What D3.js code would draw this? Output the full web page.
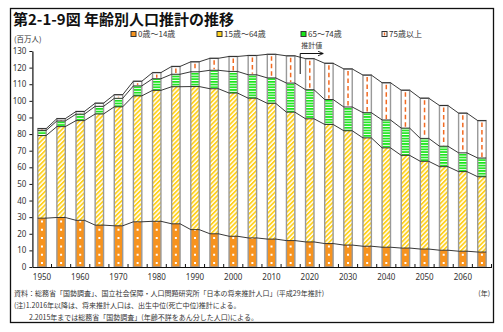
<!DOCTYPE html>
<html>
<head>
<meta charset="utf-8">
<script src="https://cdn.jsdelivr.net/npm/d3@7"></script>
<style>
  body { margin: 0; background: #fff; }
  svg { display: block; font-family: "Noto Sans CJK JP", "Noto Sans", sans-serif; }
</style>
</head>
<body>
<svg id="chart" width="503" height="332"></svg>
<script>
// 年齢3区分別人口（百万人）、2015年までは国勢調査、2020年以降は推計
var years = ["1950","1955","1960","1965","1970","1975","1980","1985","1990","1995","2000","2005",
             "2010","2015","2020","2025","2030","2035","2040","2045","2050","2055","2060","2065"];
var age0_14  = [29.4, 29.8, 28.1, 25.2, 24.8, 27.2, 27.5, 26.0, 22.5, 20.0, 18.5, 17.5,
                16.8, 15.9, 15.1, 14.1, 13.2, 12.5, 11.9, 11.4, 10.8, 10.1, 9.5, 9.0];
var age15_64 = [49.7, 54.7, 60.0, 66.9, 71.6, 75.8, 78.8, 82.5, 86.1, 87.3, 86.2, 84.1,
                81.7, 77.3, 74.1, 71.7, 68.8, 65.2, 59.8, 55.8, 52.8, 50.3, 47.9, 45.3];
var age65_74 = [3.1, 3.4, 3.9, 4.6, 5.1, 6.0, 7.0, 7.5, 8.9, 11.1, 13.0, 14.1,
                15.3, 17.5, 17.5, 15.0, 14.3, 15.2, 16.8, 16.4, 13.8, 12.3, 11.3, 11.3];
var age75up  = [1.1, 1.4, 1.6, 1.9, 2.2, 2.8, 3.7, 4.7, 6.0, 7.2, 9.0, 11.6,
                14.2, 16.4, 18.7, 21.8, 22.9, 22.6, 22.4, 22.8, 24.2, 24.5, 23.9, 22.5];
var yTicks = [0,10,20,30,40,50,60,70,80,90,100,110,120,130];
var legendLabels = ["0歳～14歳", "15歳～64歳", "65～74歳", "75歳以上"];
var firstEstimate = "2020";

var svg = d3.select("#chart");
var defs = svg.append("defs");

var orange = "#f7931e", yellow = "#ffd21f", green = "#19e619", dashOrange = "#f26a21";

// hatch for 15-64
var hatch = defs.append("pattern").attr("id","hatch").attr("patternUnits","userSpaceOnUse")
  .attr("width",3.2).attr("height",3.2).attr("patternTransform","rotate(45)");
hatch.append("rect").attr("width",3.2).attr("height",3.2).attr("fill","#fff");
hatch.append("rect").attr("width",1.8).attr("height",3.2).attr("fill",yellow);

// horizontal stripes for 65-74
var stripes = defs.append("pattern").attr("id","stripes").attr("patternUnits","userSpaceOnUse")
  .attr("width",4).attr("height",2.7);
stripes.append("rect").attr("width",4).attr("height",2.7).attr("fill","#fff");
stripes.append("rect").attr("width",4).attr("height",1.7).attr("fill",green);

var x = d3.scaleBand().domain(years).range([32.4, 491.5]).paddingInner(0.56).paddingOuter(0.28);
var y = d3.scaleLinear().domain([0, 130]).range([267, 51]);

var stackData = years.map(function(yr, i){
  return {year: yr, a: age0_14[i], b: age15_64[i], c: age65_74[i], d: age75up[i]};
});
var series = d3.stack().keys(["a","b","c","d"])(stackData);
var fills = {a: orange, b: "url(#hatch)", c: "url(#stripes)", d: "#fff"};

// frame
svg.append("rect").attr("x",10.5).attr("y",8.5).attr("width",483).attr("height",314)
  .attr("fill","none").attr("stroke","#111").attr("stroke-width",1.3);

svg.append("text").attr("x",13).attr("y",25).attr("font-size",15).attr("font-weight","bold")
  .attr("fill","#111").text("第2-1-9図 年齢別人口推計の推移");

svg.append("text").attr("x",14).attr("y",42).attr("font-size",7.5).attr("fill","#333").text("(百万人)");

// legend
var legendX = [131, 217, 301, 382];
var legendFill = [orange, yellow, green, "#fff"];
legendLabels.forEach(function(lbl, i){
  var g = svg.append("g").attr("transform","translate(" + legendX[i] + ",31.5)");
  g.append("rect").attr("width",5).attr("height",5).attr("fill",legendFill[i])
    .attr("stroke","#333").attr("stroke-width",1);
  if(i === 3){
    g.append("rect").attr("x",1.8).attr("y",1).attr("width",1.4).attr("height",3).attr("fill",dashOrange);
  }
  g.append("text").attr("x",7).attr("y",5.5).attr("font-size",8).attr("fill","#333").text(lbl);
});

// bar segments
var layers = svg.append("g").selectAll("g").data(series).join("g")
  .attr("fill", function(s){ return fills[s.key]; });
layers.selectAll("rect").data(function(s){ return s; }).join("rect")
  .attr("x", function(d){ return x(d.data.year); })
  .attr("width", x.bandwidth())
  .attr("y", function(d){ return y(d[1]); })
  .attr("height", function(d){ return y(d[0]) - y(d[1]); });

// white dots down the middle of 0-14
svg.append("g").selectAll("line").data(series[0]).join("line")
  .attr("x1", function(d){ return x(d.data.year) + x.bandwidth()/2; })
  .attr("x2", function(d){ return x(d.data.year) + x.bandwidth()/2; })
  .attr("y1", function(d){ return y(d[0]) - 3; })
  .attr("y2", function(d){ return y(d[1]); })
  .attr("stroke","#fff").attr("stroke-width",2).attr("stroke-dasharray","2,6.3");

// orange dashes down the middle of 75+
svg.append("g").selectAll("line").data(series[3]).join("line")
  .attr("x1", function(d){ return x(d.data.year) + x.bandwidth()/2; })
  .attr("x2", function(d){ return x(d.data.year) + x.bandwidth()/2; })
  .attr("y1", function(d){ return y(d[1]) + 2; })
  .attr("y2", function(d){ return y(d[0]) - 1; })
  .attr("stroke",dashOrange).attr("stroke-width",1.5).attr("stroke-dasharray","4.5,3");

// gray outline of each bar
svg.append("g").selectAll("rect").data(series[3]).join("rect")
  .attr("x", function(d){ return x(d.data.year); })
  .attr("width", x.bandwidth())
  .attr("y", function(d){ return y(d[1]); })
  .attr("height", function(d){ return y(0) - y(d[1]); })
  .attr("fill","none").attr("stroke","#999").attr("stroke-width",1.4);

// series lines joining the top of every segment
var seriesLine = d3.line();
series.forEach(function(s){
  var pts = [];
  s.forEach(function(d){
    pts.push([x(d.data.year), y(d[1])]);
    pts.push([x(d.data.year) + x.bandwidth(), y(d[1])]);
  });
  svg.append("path").attr("d", seriesLine(pts)).attr("fill","none")
    .attr("stroke","#222").attr("stroke-width",0.9);
});

// axes
var yAxis = svg.append("g").attr("transform","translate(32.4,0)")
  .call(d3.axisLeft(y).tickValues(yTicks).tickSize(3).tickSizeOuter(0).tickPadding(3));
yAxis.select(".domain").attr("stroke","#111").attr("stroke-width",1.2);
yAxis.selectAll(".tick line").attr("stroke","#111");
yAxis.selectAll("text").attr("font-size",8).attr("fill","#333").attr("font-family","Noto Sans, sans-serif");

var xAxis = svg.append("g").attr("transform","translate(0,267)")
  .call(d3.axisBottom(x).tickValues(years.filter(function(v){ return +v % 10 === 0; }))
        .tickSize(0).tickPadding(7));
xAxis.select(".domain").attr("stroke","#111").attr("stroke-width",1.2);
xAxis.selectAll("text").attr("font-size",8).attr("fill","#333").attr("font-family","Noto Sans, sans-serif");
// small ticks between the bars
xAxis.append("g").selectAll("line").data(years).join("line")
  .attr("x1", function(d){ return x(d) - x.step()*x.paddingInner()/2 + x.step(); })
  .attr("x2", function(d){ return x(d) - x.step()*x.paddingInner()/2 + x.step(); })
  .attr("y1", 0).attr("y2", -3).attr("stroke","#111").attr("stroke-width",1);

// estimate marker
var splitX = x(firstEstimate) - x.step()*x.paddingInner()/2;
svg.append("text").attr("x", splitX + 1).attr("y", 48).attr("font-size",7).attr("fill","#333").text("推計値");
defs.append("marker").attr("id","arrow").attr("viewBox","0 0 10 10").attr("refX",9).attr("refY",5)
  .attr("markerWidth",6).attr("markerHeight",6).attr("orient","auto")
  .append("path").attr("d","M0,1 L9,5 L0,9").attr("fill","none").attr("stroke","#111").attr("stroke-width",1.5);
svg.append("path").attr("d","M" + splitX + ",74 L" + splitX + ",53.5 L" + (splitX + 23) + ",53.5")
  .attr("fill","none").attr("stroke","#111").attr("stroke-width",1).attr("marker-end","url(#arrow)");

// notes
var notes = svg.append("g").attr("font-size",7).attr("fill","#333");
notes.append("text").attr("x",14).attr("y",296)
  .text("資料：総務省「国勢調査」、国立社会保障・人口問題研究所「日本の将来推計人口」(平成29年推計)");
notes.append("text").attr("x",490).attr("y",296).attr("text-anchor","end").text("(年)");
notes.append("text").attr("x",14).attr("y",308)
  .text("(注)1.2016年以降は、将来推計人口は、出生中位(死亡中位)推計による。");
notes.append("text").attr("x",29).attr("y",320)
  .text("2.2015年までは総務省「国勢調査」(年齢不詳をあん分した人口)による。");
</script>
</body>
</html>
